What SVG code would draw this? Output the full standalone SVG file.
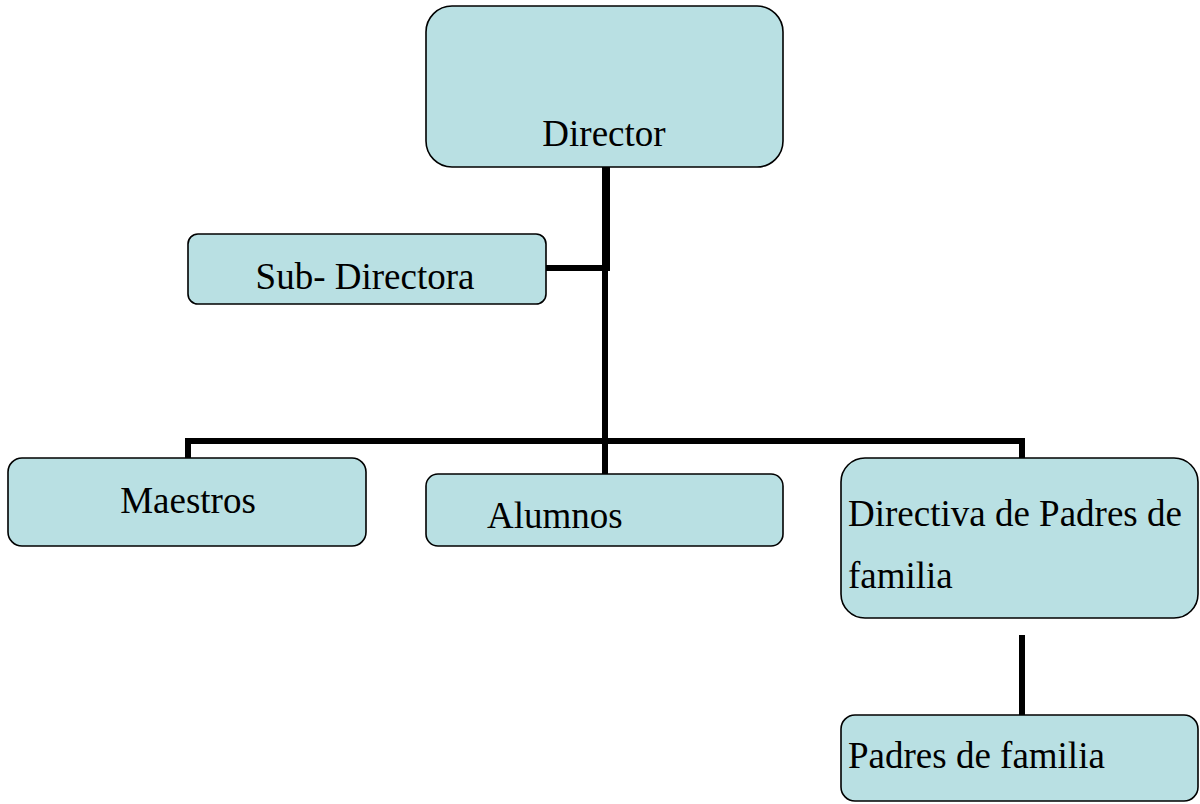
<svg xmlns="http://www.w3.org/2000/svg" width="1200" height="804" viewBox="0 0 1200 804">
<style>
.box{fill:#b9e0e3;stroke:#000;stroke-width:1.6}
.t{font-family:"Liberation Serif","Times New Roman",serif;font-size:37px;fill:#000}
.c{fill:none;stroke:#000;stroke-width:6;stroke-linecap:butt}
</style>
<rect width="1200" height="804" fill="#fff"/>
<g id="connectors">
<line class="c" x1="606" y1="167" x2="606" y2="271" style="stroke-width:8"/>
<line class="c" x1="546" y1="268" x2="609" y2="268"/>
<line class="c" x1="605" y1="268" x2="605" y2="474"/>
<polyline class="c" points="188,458 188,441 1022,441 1022,458"/>
<line class="c" x1="1022" y1="635" x2="1022" y2="715"/>
</g>
<g id="director">
<rect class="box" x="426" y="6" width="357" height="161" rx="26"/>
<text class="t" x="604" y="146" text-anchor="middle">Director</text>
</g>
<g id="subdirectora">
<rect class="box" x="188" y="234" width="358" height="70" rx="10"/>
<text class="t" x="365" y="289" text-anchor="middle">Sub- Directora</text>
</g>
<g id="maestros">
<rect class="box" x="8" y="458" width="358" height="88" rx="14"/>
<text class="t" x="188" y="513" text-anchor="middle">Maestros</text>
</g>
<g id="alumnos">
<rect class="box" x="426" y="474" width="357" height="72" rx="12"/>
<text class="t" x="487" y="528">Alumnos</text>
</g>
<g id="directiva">
<rect class="box" x="841" y="458" width="357" height="160" rx="24"/>
<text class="t" x="848" y="526">Directiva de Padres de</text>
<text class="t" x="848" y="588">familia</text>
</g>
<g id="padres">
<rect class="box" x="841" y="715" width="357" height="86" rx="14"/>
<text class="t" x="848" y="768">Padres de familia</text>
</g>
</svg>
